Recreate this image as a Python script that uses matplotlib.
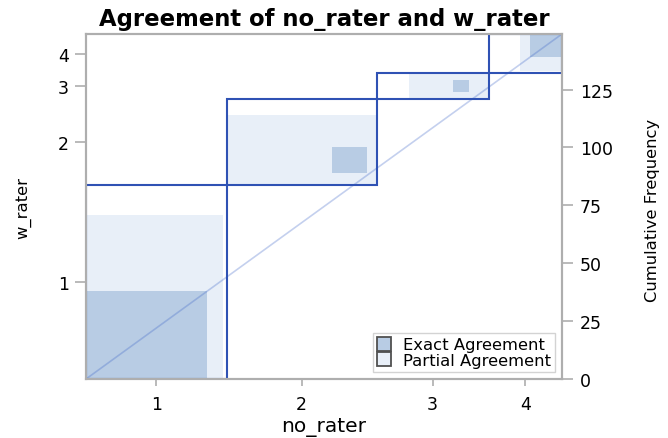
import numpy as np
import matplotlib
matplotlib.use("Agg")
import matplotlib.pyplot as plt
from matplotlib.patches import Rectangle, Patch

plt.rcParams['font.family'] = ['DejaVu Sans']

categories = ['1', '2', '3', '4']
# counts[i][j]: no_rater = i+1, w_rater = j+1
counts = np.array([
    [38, 5, 0, 1],
    [33, 11, 3, 0],
    [10, 14, 5, 6],
    [3, 7, 3, 10],
])
cum_ticks = [0, 25, 50, 75, 100, 125]

K = len(categories)
colsum = counts.sum(axis=1)
rowsum = counts.sum(axis=0)
N = counts.sum()
xcum = np.concatenate([[0], np.cumsum(colsum)])
ycum = np.concatenate([[0], np.cumsum(rowsum)])

exact_c = '#B8CCE4'
partial_c = '#E8EFF8'
line_c = '#2F52B4'
grey = '#AEAEAE'

W, H = 668, 439
fig = plt.figure(figsize=(W / 100, H / 100), dpi=100)
ax = fig.add_axes([86 / W, (H - 380) / H, 476 / W, 345 / H])
ax.set_xlim(0, N)
ax.set_ylim(0, N)

for i in range(K):
    lo = max(i - 1, 0)
    hi = min(i + 2, K)
    px0 = xcum[i] + counts[i, :lo].sum()
    pw = counts[i, lo:hi].sum()
    py0 = ycum[i] + counts[:lo, i].sum()
    ph = counts[lo:hi, i].sum()
    ax.add_patch(Rectangle((px0, py0), pw, ph, facecolor=partial_c, edgecolor='none', zorder=1))
    ex0 = xcum[i] + counts[i, :i].sum()
    ey0 = ycum[i] + counts[:i, i].sum()
    ax.add_patch(Rectangle((ex0, ey0), counts[i, i], counts[i, i], facecolor=exact_c,
                           edgecolor='none', zorder=2))

ax.plot([0, N], [0, N], color='#3C64C8', alpha=0.3, lw=1.2, zorder=3)

for i in range(K):
    ax.add_patch(Rectangle((xcum[i], ycum[i]), colsum[i], rowsum[i], fill=False,
                           edgecolor=line_c, lw=1.5, zorder=4, clip_on=True))

xt = (xcum[:-1] + xcum[1:]) / 2
yt = (ycum[:-1] + ycum[1:]) / 2
ax.set_xticks(xt)
ax.set_xticklabels(categories)
ax.set_yticks(yt)
ax.set_yticklabels(categories)
ax.tick_params(axis='x', colors=grey, labelcolor='black', labelsize=12.5, length=5, width=1.2, pad=6.5)
ax.tick_params(axis='y', colors=grey, labelcolor='black', labelsize=12.5, length=7.9, width=1.2, pad=4.3)
for s in ax.spines.values():
    s.set_color(grey)
    s.set_linewidth(1.5)
    s.set_zorder(6)

ax.set_xlabel('no_rater', fontsize=14.5)
ax.xaxis.label.set_va('baseline')
ax.xaxis.set_label_coords(324 / W, (H - 432) / H, transform=fig.transFigure)
ax.set_ylabel('w_rater', fontsize=11.8)
ax.yaxis.label.set_va('center')
ax.yaxis.set_label_coords(23 / W, (H - 208) / H, transform=fig.transFigure)
ax.set_title('Agreement of no_rater and w_rater', fontsize=16.4, fontweight='bold',
             y=1 + 9 / 345, va='baseline', pad=0)

ax2 = ax.twinx()
ax2.set_ylim(0, N)
ax2.set_yticks(cum_ticks)
ax2.tick_params(axis='y', colors=grey, labelcolor='black', labelsize=12.5, length=7.9, width=1.2, pad=5)
for s in ax2.spines.values():
    s.set_color(grey)
    s.set_linewidth(1.5)
ax2.set_ylabel('Cumulative Frequency', fontsize=11.8)
ax2.yaxis.label.set_va('center')
ax2.yaxis.set_label_coords(653 / W, (H - 210) / H, transform=fig.transFigure)

handles = [Patch(facecolor=exact_c, edgecolor='#505050', lw=1.3, label='Exact Agreement'),
           Patch(facecolor=partial_c, edgecolor='#505050', lw=1.3, label='Partial Agreement')]
leg = ax2.legend(handles=handles, loc='lower right', bbox_to_anchor=(1 - 7 / 476, 7 / 345),
                 fontsize=11.8, frameon=True, fancybox=False, edgecolor='#C8C8C8',
                 handlelength=0.9, handleheight=0.9, handletextpad=0.7, borderpad=0.25,
                 labelspacing=0.0, borderaxespad=0.0)
leg.get_frame().set_linewidth(1.0)

fig.savefig('out.png', dpi=100)
